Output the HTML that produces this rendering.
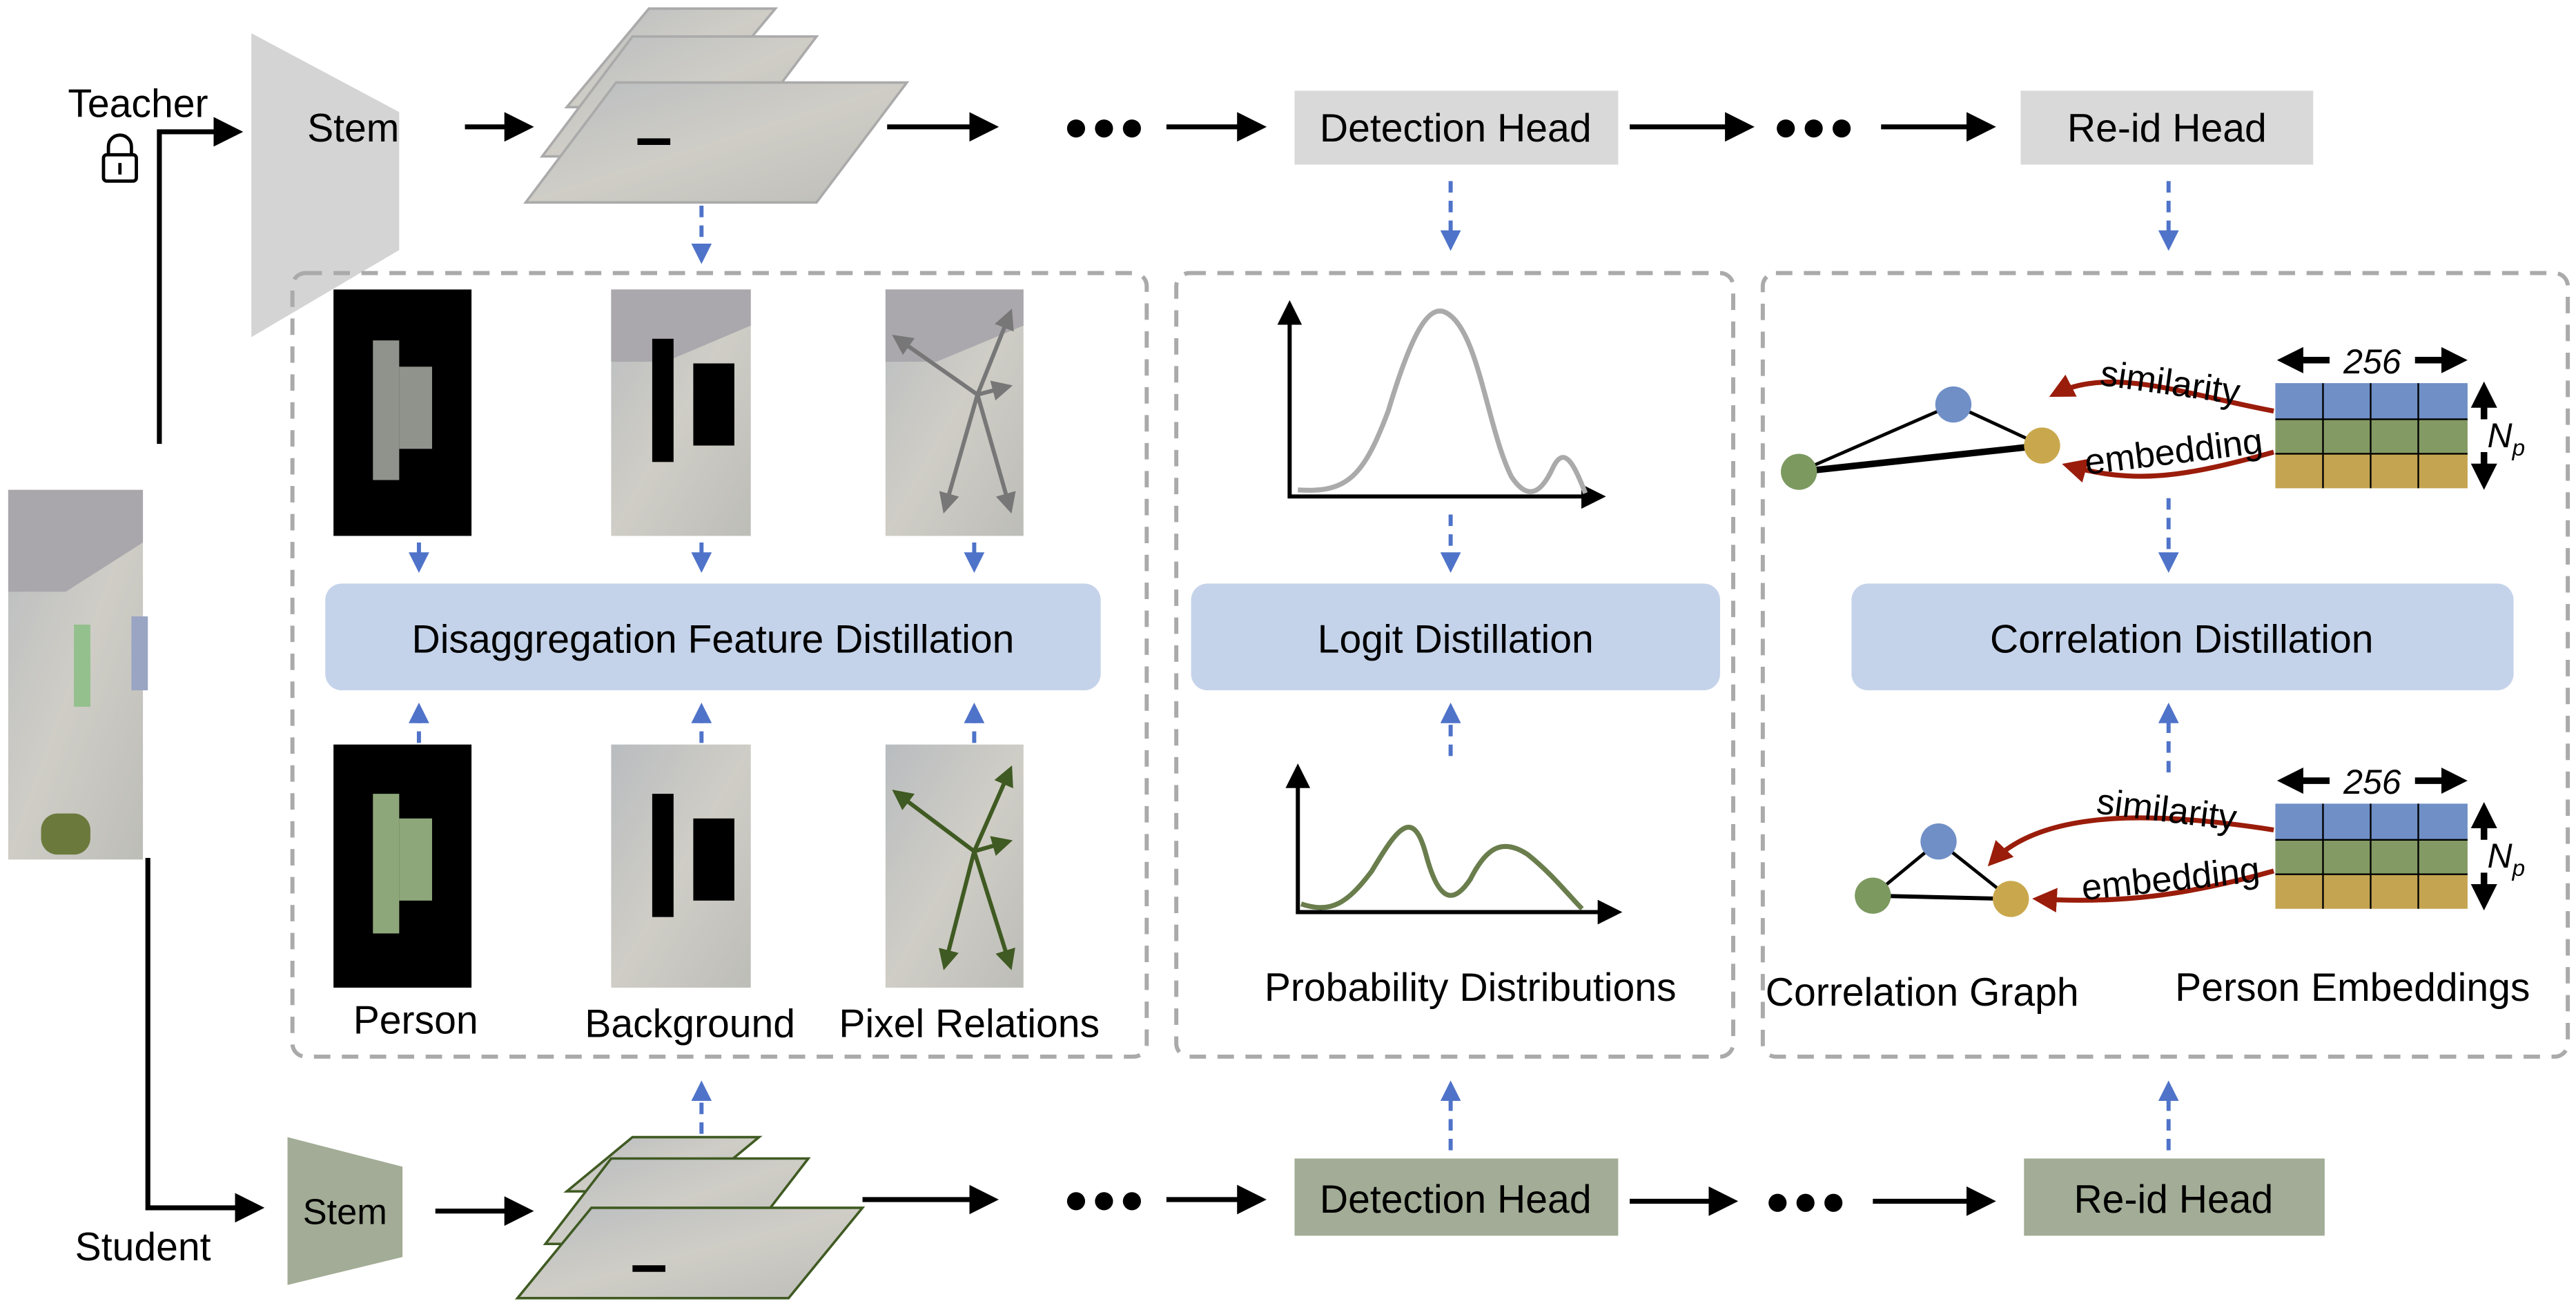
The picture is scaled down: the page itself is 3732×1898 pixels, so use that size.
<!DOCTYPE html>
<html><head><meta charset="utf-8"><style>
html,body{margin:0;padding:0;background:#fff;}
svg{display:block;}
text{font-family:"Liberation Sans",sans-serif;}
</style></head><body>
<svg width="3732" height="1898" viewBox="0 0 1568 797" xmlns="http://www.w3.org/2000/svg">
<defs>
<marker id="ab" markerWidth="6" markerHeight="6" refX="5" refY="3" orient="auto-start-reverse" markerUnits="strokeWidth"><path d="M0,0 L6,3 L0,6 z" fill="#000"/></marker>
<marker id="as" markerWidth="4" markerHeight="4" refX="3" refY="2" orient="auto-start-reverse" markerUnits="strokeWidth"><path d="M0,0 L4,2 L0,4 z" fill="#000"/></marker>
<marker id="bl" markerWidth="5" markerHeight="5" refX="4" refY="2.5" orient="auto" markerUnits="strokeWidth"><path d="M0,0 L5,2.5 L0,5 z" fill="#4f73c9"/></marker>
<marker id="rd" markerWidth="5" markerHeight="5" refX="4" refY="2.5" orient="auto" markerUnits="strokeWidth"><path d="M0,0 L5,2.5 L0,5 z" fill="#9a1c0a"/></marker>
<marker id="gy" markerWidth="5" markerHeight="5" refX="4" refY="2.5" orient="auto" markerUnits="strokeWidth"><path d="M0,0 L5,2.5 L0,5 z" fill="#777"/></marker>
<marker id="gn" markerWidth="5" markerHeight="5" refX="4" refY="2.5" orient="auto" markerUnits="strokeWidth"><path d="M0,0 L5,2.5 L0,5 z" fill="#3f5a22"/></marker>
<linearGradient id="ph" x1="0" y1="0" x2="1" y2="1"><stop offset="0" stop-color="#b9bcbf"/><stop offset="0.5" stop-color="#cfcdc6"/><stop offset="1" stop-color="#bdbdb8"/></linearGradient>
</defs>

<text x="84" y="71" font-size="24" text-anchor="middle">Teacher</text>
<rect x="63" y="94" width="20" height="16" rx="2" fill="none" stroke="#000" stroke-width="2"/>
<path d="M66,94 v-5 a7,7 0 0 1 14,0 v5" fill="none" stroke="#000" stroke-width="2"/>
<line x1="73" y1="99" x2="73" y2="106" stroke="#000" stroke-width="2"/>
<polyline points="97,270 97,80 145,80" fill="none" stroke="#000" stroke-width="3" marker-end="url(#ab)"/>
<polyline points="90,522 90,735 158,735" fill="none" stroke="#000" stroke-width="3" marker-end="url(#ab)"/>
<text x="87" y="767" font-size="24" text-anchor="middle">Student</text>

<rect x="5" y="298" width="82" height="225" fill="url(#ph)"/>
<path d="M5,298 H87 V330 L40,360 H5 Z" fill="#a9a7ac"/>
<rect x="25" y="495" width="30" height="25" rx="10" fill="#6b7a3c"/>
<rect x="45" y="380" width="10" height="50" fill="#93c08d"/>
<rect x="80" y="375" width="10" height="45" fill="#9aa4c3"/>

<polygon points="153,20 243,68 243,152 153,205" fill="#d4d4d4"/>
<text x="215" y="86" font-size="24" text-anchor="middle">Stem</text>
<line x1="283" y1="77" x2="322" y2="77" stroke="#000" stroke-width="3" marker-end="url(#ab)"/>
<g stroke="#aaa" stroke-width="1.5" fill="url(#ph)">
<polygon points="345,65 395,5 472,5 422,65"/>
<polygon points="330,95 385,22 497,22 442,95"/>
<polygon points="320,123 375,50 552,50 497,123"/>
</g>
<rect x="388" y="84" width="20" height="4" fill="#000"/>
<line x1="540" y1="77" x2="605" y2="77" stroke="#000" stroke-width="3" marker-end="url(#ab)"/>
<circle cx="655" cy="78" r="5.5"/><circle cx="672" cy="78" r="5.5"/><circle cx="689" cy="78" r="5.5"/>
<line x1="710" y1="77" x2="768" y2="77" stroke="#000" stroke-width="3" marker-end="url(#ab)"/>
<rect x="788" y="55" width="197" height="45" fill="#d9d9d9"/>
<text x="886" y="86" font-size="24" text-anchor="middle">Detection Head</text>
<line x1="992" y1="77" x2="1065" y2="77" stroke="#000" stroke-width="3" marker-end="url(#ab)"/>
<circle cx="1087" cy="78" r="5.5"/><circle cx="1104" cy="78" r="5.5"/><circle cx="1121" cy="78" r="5.5"/>
<line x1="1145" y1="77" x2="1212" y2="77" stroke="#000" stroke-width="3" marker-end="url(#ab)"/>
<rect x="1230" y="55" width="178" height="45" fill="#d9d9d9"/>
<text x="1319" y="86" font-size="24" text-anchor="middle">Re-id Head</text>

<g stroke="#4f73c9" stroke-width="2.5" stroke-dasharray="7,5" fill="none">
<line x1="427" y1="125" x2="427" y2="158" marker-end="url(#bl)"/>
<line x1="883" y1="110" x2="883" y2="150" marker-end="url(#bl)"/>
<line x1="1320" y1="110" x2="1320" y2="150" marker-end="url(#bl)"/>
<line x1="255" y1="330" x2="255" y2="346" marker-end="url(#bl)"/>
<line x1="427" y1="330" x2="427" y2="346" marker-end="url(#bl)"/>
<line x1="593" y1="330" x2="593" y2="346" marker-end="url(#bl)"/>
<line x1="255" y1="452" x2="255" y2="430" marker-end="url(#bl)"/>
<line x1="427" y1="452" x2="427" y2="430" marker-end="url(#bl)"/>
<line x1="593" y1="452" x2="593" y2="430" marker-end="url(#bl)"/>
<line x1="883" y1="313" x2="883" y2="346" marker-end="url(#bl)"/>
<line x1="883" y1="460" x2="883" y2="430" marker-end="url(#bl)"/>
<line x1="1320" y1="303" x2="1320" y2="346" marker-end="url(#bl)"/>
<line x1="1320" y1="470" x2="1320" y2="430" marker-end="url(#bl)"/>
<line x1="427" y1="690" x2="427" y2="660" marker-end="url(#bl)"/>
<line x1="883" y1="700" x2="883" y2="660" marker-end="url(#bl)"/>
<line x1="1320" y1="700" x2="1320" y2="660" marker-end="url(#bl)"/>
</g>

<g fill="none" stroke="#aaa" stroke-width="2.5" stroke-dasharray="10,7">
<rect x="178" y="166" width="520" height="477" rx="8"/>
<rect x="716" y="166" width="339" height="477" rx="8"/>
<rect x="1073" y="166" width="490" height="477" rx="8"/>
</g>

<rect x="203" y="176" width="84" height="150" fill="#000"/>
<rect x="227" y="207" width="16" height="85" fill="#8f938c"/><rect x="243" y="223" width="20" height="50" fill="#8f938c"/>
<rect x="372" y="176" width="85" height="150" fill="url(#ph)"/>
<path d="M372,176 H457 V198 L405,220 H372Z" fill="#aaa8ad"/>
<rect x="397" y="206" width="13" height="75" fill="#000"/><rect x="422" y="221" width="25" height="50" fill="#000"/>
<rect x="539" y="176" width="84" height="150" fill="url(#ph)"/>
<path d="M539,176 H623 V198 L570,220 H539Z" fill="#aaa8ad"/>
<g stroke="#777" stroke-width="2.5" marker-end="url(#gy)">
<line x1="595" y1="240" x2="615" y2="190"/><line x1="595" y1="240" x2="614" y2="235"/><line x1="595" y1="240" x2="575" y2="310"/><line x1="595" y1="240" x2="615" y2="310"/><line x1="595" y1="240" x2="545" y2="205"/>
</g>
<rect x="203" y="453" width="84" height="148" fill="#000"/>
<rect x="227" y="483" width="16" height="85" fill="#8ea77a"/><rect x="243" y="498" width="20" height="50" fill="#8ea77a"/>
<rect x="372" y="453" width="85" height="148" fill="url(#ph)"/>
<rect x="397" y="483" width="13" height="75" fill="#000"/><rect x="422" y="498" width="25" height="50" fill="#000"/>
<rect x="539" y="453" width="84" height="148" fill="url(#ph)"/>
<g stroke="#3f5a22" stroke-width="2.5" marker-end="url(#gn)">
<line x1="593" y1="518" x2="615" y2="468"/><line x1="593" y1="518" x2="614" y2="512"/><line x1="593" y1="518" x2="575" y2="588"/><line x1="593" y1="518" x2="615" y2="588"/><line x1="593" y1="518" x2="545" y2="482"/>
</g>
<rect x="198" y="355" width="472" height="65" rx="10" fill="#c5d3ea"/>
<text x="434" y="397" font-size="24" text-anchor="middle">Disaggregation Feature Distillation</text>
<text x="253" y="629" font-size="24" text-anchor="middle">Person</text>
<text x="420" y="631" font-size="24" text-anchor="middle">Background</text>
<text x="590" y="631" font-size="24" text-anchor="middle">Pixel Relations</text>

<polyline points="785,185 785,302 975,302" fill="none" stroke="#000" stroke-width="2.5" marker-start="url(#ab)" marker-end="url(#ab)"/>
<path d="M790,298 C820,300 830,290 845,250 C860,200 870,185 880,190 C900,200 905,260 920,290 C930,305 938,300 945,285 C952,270 958,282 965,300" fill="none" stroke="#aaa" stroke-width="3"/>
<rect x="725" y="355" width="322" height="65" rx="10" fill="#c5d3ea"/>
<text x="886" y="397" font-size="24" text-anchor="middle">Logit Distillation</text>
<polyline points="790,467 790,555 985,555" fill="none" stroke="#000" stroke-width="2.5" marker-start="url(#ab)" marker-end="url(#ab)"/>
<path d="M792,550 C810,556 820,550 835,530 C850,505 860,490 868,520 C876,550 885,550 895,535 C905,515 915,510 930,520 C945,532 955,545 963,553" fill="none" stroke="#6a7d4c" stroke-width="3"/>
<text x="895" y="609" font-size="24" text-anchor="middle">Probability Distributions</text>

<g stroke="#000">
<line x1="1095" y1="287" x2="1189" y2="246" stroke-width="2"/>
<line x1="1189" y1="246" x2="1243" y2="271" stroke-width="2"/>
<line x1="1095" y1="287" x2="1243" y2="271" stroke-width="4"/>
</g>
<circle cx="1189" cy="246" r="11" fill="#6f8fc6"/>
<circle cx="1243" cy="271" r="11" fill="#c9a84d"/>
<circle cx="1095" cy="287" r="11" fill="#7c9960"/>
<path d="M1384,250 C1330,240 1285,222 1250,240" fill="none" stroke="#9a1c0a" stroke-width="3" marker-end="url(#rd)"/>
<path d="M1384,275 C1330,290 1300,295 1258,283" fill="none" stroke="#9a1c0a" stroke-width="3" marker-end="url(#rd)"/>
<text x="1320" y="240" font-size="22" text-anchor="middle" transform="rotate(8 1320 240)">similarity</text>
<text x="1324" y="282" font-size="22" text-anchor="middle" transform="rotate(-7 1324 282)">embedding</text>
<rect x="1385" y="233" width="117" height="22" fill="#6f8fc6"/><rect x="1385" y="255" width="117" height="21" fill="#849a64"/><rect x="1385" y="276" width="117" height="21" fill="#c4a450"/>
<g stroke="#000" stroke-width="1"><line x1="1414" y1="233" x2="1414" y2="297"/><line x1="1443" y1="233" x2="1443" y2="297"/><line x1="1472" y1="233" x2="1472" y2="297"/><line x1="1385" y1="255" x2="1502" y2="255"/><line x1="1385" y1="276" x2="1502" y2="276"/></g>
<g stroke="#000" stroke-width="4"><line x1="1418" y1="219" x2="1390" y2="219" marker-end="url(#as)"/><line x1="1470" y1="219" x2="1498" y2="219" marker-end="url(#as)"/><line x1="1512" y1="255" x2="1512" y2="236" marker-end="url(#as)"/><line x1="1512" y1="275" x2="1512" y2="294" marker-end="url(#as)"/></g>
<text x="1444" y="227" font-size="21" font-style="italic" text-anchor="middle">256</text>
<text x="1514" y="272" font-size="21" font-style="italic" text-anchor="start">N<tspan font-size="14" dy="5">p</tspan></text>
<rect x="1127" y="355" width="403" height="65" rx="10" fill="#c5d3ea"/>
<text x="1328" y="397" font-size="24" text-anchor="middle">Correlation Distillation</text>
<g stroke="#000">
<line x1="1140" y1="545" x2="1180" y2="512" stroke-width="2"/>
<line x1="1180" y1="512" x2="1224" y2="547" stroke-width="2"/>
<line x1="1140" y1="545" x2="1224" y2="547" stroke-width="2.5"/>
</g>
<circle cx="1180" cy="512" r="11" fill="#6f8fc6"/>
<circle cx="1224" cy="547" r="11" fill="#c9a84d"/>
<circle cx="1140" cy="545" r="11" fill="#7c9960"/>
<path d="M1384,505 C1320,495 1245,490 1212,525" fill="none" stroke="#9a1c0a" stroke-width="3" marker-end="url(#rd)"/>
<path d="M1384,530 C1330,545 1290,550 1240,547" fill="none" stroke="#9a1c0a" stroke-width="3" marker-end="url(#rd)"/>
<text x="1318" y="500" font-size="22" text-anchor="middle" transform="rotate(7 1318 500)">similarity</text>
<text x="1322" y="542" font-size="22" text-anchor="middle" transform="rotate(-6 1322 542)">embedding</text>
<rect x="1385" y="489" width="117" height="22" fill="#6f8fc6"/><rect x="1385" y="511" width="117" height="21" fill="#849a64"/><rect x="1385" y="532" width="117" height="21" fill="#c4a450"/>
<g stroke="#000" stroke-width="1"><line x1="1414" y1="489" x2="1414" y2="553"/><line x1="1443" y1="489" x2="1443" y2="553"/><line x1="1472" y1="489" x2="1472" y2="553"/><line x1="1385" y1="511" x2="1502" y2="511"/><line x1="1385" y1="532" x2="1502" y2="532"/></g>
<g stroke="#000" stroke-width="4"><line x1="1418" y1="475" x2="1390" y2="475" marker-end="url(#as)"/><line x1="1470" y1="475" x2="1498" y2="475" marker-end="url(#as)"/><line x1="1512" y1="511" x2="1512" y2="492" marker-end="url(#as)"/><line x1="1512" y1="531" x2="1512" y2="550" marker-end="url(#as)"/></g>
<text x="1444" y="483" font-size="21" font-style="italic" text-anchor="middle">256</text>
<text x="1514" y="528" font-size="21" font-style="italic" text-anchor="start">N<tspan font-size="14" dy="5">p</tspan></text>
<text x="1170" y="612" font-size="24" text-anchor="middle">Correlation Graph</text>
<text x="1432" y="609" font-size="24" text-anchor="middle">Person Embeddings</text>

<polygon points="175,692 245,710 245,765 175,782" fill="#a2ac96"/>
<text x="210" y="745" font-size="22" text-anchor="middle">Stem</text>
<line x1="265" y1="737" x2="322" y2="737" stroke="#000" stroke-width="3" marker-end="url(#ab)"/>
<g stroke="#3f5a22" stroke-width="1.5" fill="url(#ph)">
<polygon points="345,725 385,692 462,692 422,725"/>
<polygon points="332,757 372,705 492,705 452,757"/>
<polygon points="315,790 360,735 525,735 480,790"/>
</g>
<rect x="385" y="770" width="20" height="4" fill="#000"/>
<line x1="525" y1="730" x2="605" y2="730" stroke="#000" stroke-width="3" marker-end="url(#ab)"/>
<circle cx="655" cy="731" r="5.5"/><circle cx="672" cy="731" r="5.5"/><circle cx="689" cy="731" r="5.5"/>
<line x1="710" y1="730" x2="768" y2="730" stroke="#000" stroke-width="3" marker-end="url(#ab)"/>
<rect x="788" y="705" width="197" height="47" fill="#a2ac96"/>
<text x="886" y="738" font-size="24" text-anchor="middle">Detection Head</text>
<line x1="992" y1="731" x2="1055" y2="731" stroke="#000" stroke-width="3" marker-end="url(#ab)"/>
<circle cx="1082" cy="732" r="5.5"/><circle cx="1099" cy="732" r="5.5"/><circle cx="1116" cy="732" r="5.5"/>
<line x1="1140" y1="731" x2="1212" y2="731" stroke="#000" stroke-width="3" marker-end="url(#ab)"/>
<rect x="1232" y="705" width="183" height="47" fill="#a2ac96"/>
<text x="1323" y="738" font-size="24" text-anchor="middle">Re-id Head</text>
</svg>
</body></html>
